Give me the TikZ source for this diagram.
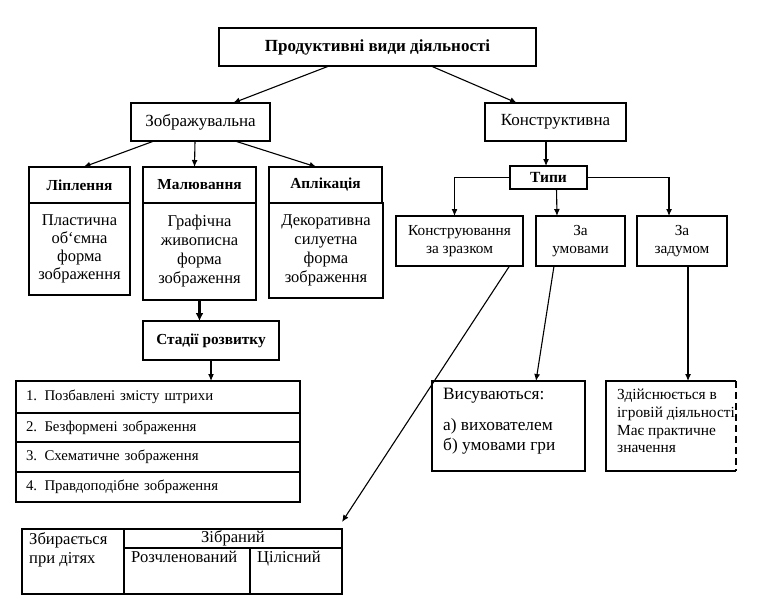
\documentclass[tikz,border=0pt]{standalone}
\usepackage{fontspec}
\setmainfont{Liberation Serif}
\usetikzlibrary{arrows.meta}
\newcommand\mybox[7]{\node[box,minimum width={#4-#2},minimum height={#5-#3},#6] (#1) at (#2,#3) {#7};}
\begin{document}
\begin{tikzpicture}[x=1pt,y=-1pt,
  box/.style={draw,line width=1.1pt,anchor=north west,inner sep=0pt,outer sep=0pt,align=center,font=\fontsize{16.5}{19}\selectfont},
  hdr/.style={font=\bfseries\fontsize{15.3}{18}\selectfont},
  small/.style={font=\fontsize{15.3}{18}\selectfont},
  txt/.style={anchor=north west,inner sep=0pt,align=left},
  arr/.style={line width=1.1pt,-{Latex[length=7pt,width=6pt]}},
  thick arr/.style={line width=2.6pt,-{Latex[length=8pt,width=8pt]}},
  row/.style={draw,line width=1.1pt,anchor=north west,outer sep=0pt,inner ysep=0pt,inner xsep=10pt,text width=264pt,align=left,font=\fontsize{14.8}{17}\selectfont}]
\useasboundingbox (0,0) rectangle (767,606);
% top level
\mybox{top}{219}{28}{536}{66}{font=\bfseries\fontsize{17}{19}\selectfont}{Продуктивні види діяльності}
\mybox{zobr}{131}{103}{270}{141}{font=\fontsize{17}{19}\selectfont}{Зображувальна}
\mybox{kons}{485}{103}{626}{141}{font=\fontsize{17}{19}\selectfont}{Конструктивна}
% left branch
\mybox{liph}{29}{167}{130}{203}{hdr}{Ліплення}
\mybox{lipb}{29}{203}{130}{295}{font=\fontsize{16.5}{18}\selectfont}{Пластична\\об`ємна\\форма\\зображення}
\mybox{malh}{143}{167}{256}{203}{hdr}{Малювання}
\mybox{malb}{143}{203}{256}{300}{}{Графічна\\живописна\\форма\\зображення}
\mybox{aplh}{269}{167}{382}{203}{hdr}{Аплікація}
\mybox{aplb}{269}{203}{383}{298}{}{Декоративна\\силуетна\\форма\\зображення}
\mybox{stad}{143}{321}{279}{360}{hdr}{Стадії розвитку}
\node[row,minimum height=32pt] (r1) at (16,381) {1. Позбавлені змісту штрихи};
\node[row,minimum height=29pt] (r2) at (16,413) {2. Безформені зображення};
\node[row,minimum height=30pt] (r3) at (16,442) {3. Схематичне зображення};
\node[row,minimum height=30pt] (r4) at (16,472) {4. Правдоподібне зображення};
% right branch
\mybox{typy}{510}{166}{587}{189}{font=\bfseries\fontsize{15.5}{17}\selectfont}{Типи}
\mybox{zraz}{396}{216}{523}{266}{small}{Конструювання\\за зразком}
\mybox{umov}{536}{216}{625}{266}{small}{За\\умовами}
\mybox{zadum}{637}{216}{727}{266}{small}{За\\задумом}
\mybox{vys}{432}{381}{585}{471}{}{}
\node[txt,font=\fontsize{17.3}{20}\selectfont] (vyst) at (443,388) {Висуваються:\\[11pt]а) вихователем\\б) умовами гри};
\node[anchor=north west,inner sep=0pt,outer sep=0pt,minimum width=130pt,minimum height=90pt] (zdiy) at (606,381) {};
\draw[line width=1.1pt] (zdiy.north east) -- (zdiy.north west) -- (zdiy.south west) -- (zdiy.south east);
\draw[line width=1.1pt,dash pattern=on 7pt off 4pt] (zdiy.north east) -- (zdiy.south east);
\node[txt,font=\fontsize{15.4}{17.7}\selectfont] (zdiyt) at (617,389) {Здійснюється в\\ігровій діяльності\\Має практичне\\значення};
% bottom table
\mybox{tab}{22}{529}{342}{594}{}{}
\mybox{c1}{22}{529}{124}{594}{}{}
\mybox{c2}{124}{529}{342}{548}{font=\fontsize{16.6}{18}\selectfont}{Зібраний}
\mybox{c3}{124}{548}{250}{594}{}{}
\mybox{c4}{250}{548}{342}{594}{}{}
\node[txt,font=\fontsize{16.6}{19}\selectfont] (c1t) at (29,532) {Збирається\\при дітях};
\node[txt,font=\fontsize{16.6}{18}\selectfont] (c3t) at (131,551) {Розчленований};
\node[txt,font=\fontsize{16.6}{18}\selectfont] (c4t) at (257,551) {Цілісний};
% connectors
\draw[arr] ([xshift=-48.5pt]top.south) -- ([xshift=32.5pt]zobr.north);
\draw[arr] ([xshift=53.5pt]top.south) -- ([xshift=-38.5pt]kons.north);
\draw[arr] ([xshift=-46.5pt]zobr.south) -- ([xshift=4pt]liph.north);
\draw[arr] ([xshift=-5.5pt]zobr.south) -- ([xshift=-5pt]malh.north);
\draw[arr] ([xshift=34.5pt]zobr.south) -- ([xshift=-9pt]aplh.north);
\draw[thick arr] (malb.south) -- (malb.south |- stad.north);
\draw[arr] (stad.south) -- (stad.south |- r1.north);
\draw[arr] ([xshift=-9.5pt]kons.south) -- ([xshift=-9.5pt]kons.south |- typy.north);
\draw[arr] (typy.west) -| ([xshift=-5pt]zraz.north);
\draw[arr] ([xshift=8pt]typy.south) -- ([xshift=-23.5pt]umov.north);
\draw[arr] (typy.east) -| ([xshift=-13pt]zadum.north);
\draw[arr] ([xshift=50pt]zraz.south) -- ([yshift=7pt]tab.north east);
\draw[arr] ([xshift=-26.5pt]umov.south) -- ([xshift=27.5pt]vys.north);
\draw[arr] ([xshift=6pt]zadum.south) -- ([xshift=6pt]zadum.south |- zdiy.north);
\end{tikzpicture}
\end{document}
